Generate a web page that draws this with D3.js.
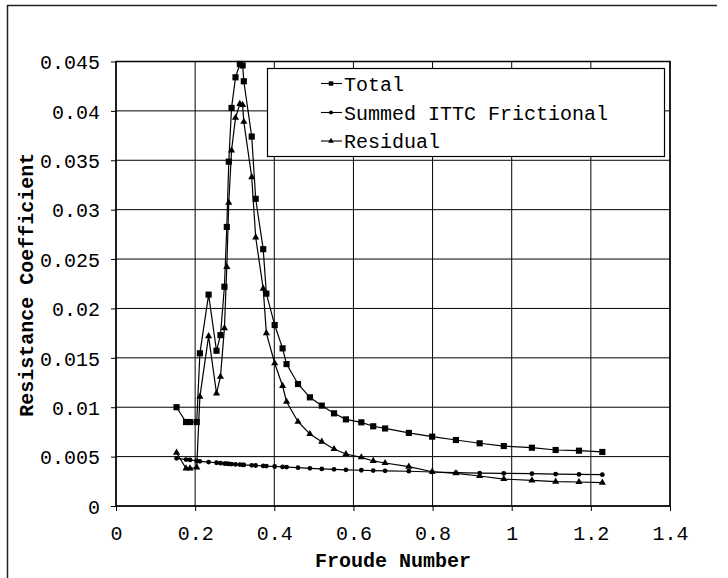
<!DOCTYPE html>
<html>
<head>
<meta charset="utf-8">
<script src="https://cdn.jsdelivr.net/npm/d3@7"></script>
<style>
  html, body { margin: 0; padding: 0; background: #fff; }
  svg { display: block; }
  text { font-family: "Liberation Mono", "Courier New", monospace; fill: #000; }
</style>
</head>
<body>
<svg id="chart" width="728" height="578"></svg>
<script>
const froude = [0.153, 0.177, 0.187, 0.204, 0.212, 0.234, 0.254, 0.264, 0.274, 0.280,
  0.285, 0.292, 0.302, 0.313, 0.320, 0.323, 0.343, 0.353, 0.372, 0.380,
  0.401, 0.421, 0.431, 0.460, 0.490, 0.520, 0.551, 0.581, 0.620, 0.650,
  0.680, 0.740, 0.799, 0.859, 0.919, 0.980, 1.051, 1.111, 1.170, 1.229];
const total = [0.0100, 0.0085, 0.0085, 0.0085, 0.01546, 0.0214, 0.01572, 0.0173, 0.0222, 0.02825,
  0.03486, 0.0403, 0.0434, 0.04475, 0.0446, 0.0430, 0.0374, 0.0311, 0.0260, 0.0215,
  0.01832, 0.01596, 0.01437, 0.01235, 0.0110, 0.01016, 0.00938, 0.00877, 0.00847, 0.00807,
  0.00785, 0.0074, 0.00702, 0.00668, 0.00635, 0.00607, 0.0059, 0.00567, 0.0056, 0.00547];
const frictional = [0.00483, 0.0047, 0.00466, 0.00456, 0.00452, 0.00445, 0.00438, 0.00433, 0.0043, 0.00428,
  0.00426, 0.00424, 0.00421, 0.00419, 0.00417, 0.00416, 0.00412, 0.0041, 0.00406, 0.00404,
  0.0040, 0.00396, 0.00394, 0.00388, 0.00381, 0.00375, 0.00371, 0.00366, 0.00362, 0.00359,
  0.00356, 0.00352, 0.00344, 0.00337, 0.00333, 0.0033, 0.00327, 0.00323, 0.0032, 0.00317];
const residual = [0.0054, 0.0038, 0.0038, 0.0039, 0.01107, 0.0172, 0.0114, 0.0131, 0.0180, 0.0242,
  0.0307, 0.0360, 0.0393, 0.0407, 0.0406, 0.0389, 0.0333, 0.0272, 0.0220, 0.0175,
  0.01445, 0.01215, 0.01056, 0.00853, 0.00729, 0.00651, 0.00577, 0.00526, 0.00493, 0.00456,
  0.00435, 0.00398, 0.00347, 0.00331, 0.00304, 0.00273, 0.0026, 0.00246, 0.00243, 0.00236];
const seriesNames = ["Total", "Summed ITTC Frictional", "Residual"];
const xTicks = [0, 0.2, 0.4, 0.6, 0.8, 1, 1.2, 1.4];
const yTicks = [0, 0.005, 0.01, 0.015, 0.02, 0.025, 0.03, 0.035, 0.04, 0.045];
const xTitle = "Froude Number";
const yTitle = "Resistance Coefficient";

const svg = d3.select("#chart");
const L = 116, R = 670, T = 61.5, B = 506;
const x = d3.scaleLinear().domain([0, 1.4]).range([L, R]);
const y = d3.scaleLinear().domain([0, 0.045]).range([B, T]);

// outer frame (top and left edges)
svg.append("line").attr("x1", 7).attr("x2", 717).attr("y1", 5.5).attr("y2", 5.5)
  .attr("stroke", "#222").attr("stroke-width", 1.5);
svg.append("line").attr("x1", 7.5).attr("x2", 7.5).attr("y1", 5).attr("y2", 578)
  .attr("stroke", "#222").attr("stroke-width", 1.5);

// grid
const g = svg.append("g");
g.selectAll(".vg").data(xTicks).enter().append("line")
  .attr("x1", d => x(d)).attr("x2", d => x(d)).attr("y1", T).attr("y2", B)
  .attr("stroke", "#000").attr("stroke-width", 1);
g.selectAll(".hg").data(yTicks).enter().append("line")
  .attr("x1", L).attr("x2", R).attr("y1", d => y(d)).attr("y2", d => y(d))
  .attr("stroke", "#000").attr("stroke-width", 1);

// axes
const xAxis = d3.axisBottom(x).tickValues(xTicks).tickSize(5).tickPadding(15)
  .tickFormat(d => String(d));
const yAxis = d3.axisLeft(y).tickValues(yTicks).tickSize(5).tickPadding(11)
  .tickFormat(d => String(+d.toFixed(3)));
const gx = svg.append("g").attr("transform", `translate(0,${B})`).call(xAxis);
const gy = svg.append("g").attr("transform", `translate(${L},0)`).call(yAxis);
[gx, gy].forEach(a => {
  a.select(".domain").remove();
  a.selectAll(".tick line").attr("stroke", "#000");
  a.selectAll(".tick text").style("font-size", "20px").attr("fill", "#000");
});
gy.selectAll(".tick text").attr("dy", "0.36em");

// plot border
svg.append("rect").attr("x", L).attr("y", T).attr("width", R - L).attr("height", B - T)
  .attr("fill", "none").attr("stroke", "#000").attr("stroke-width", 1.5);

// series
const symSquare = d3.symbol().type(d3.symbolSquare).size(38)();
const symDiamond = d3.symbol().type(d3.symbolCircle).size(18)();
const symTri = d3.symbol().type(d3.symbolTriangle).size(22)();
const series = [
  { name: seriesNames[0], values: total, sym: symSquare },
  { name: seriesNames[1], values: frictional, sym: symDiamond },
  { name: seriesNames[2], values: residual, sym: symTri }
];
const line = d3.line().x(d => x(d[0])).y(d => y(d[1]));
series.forEach(s => {
  const pts = froude.map((f, i) => [f, s.values[i]]);
  svg.append("path").datum(pts).attr("d", line)
    .attr("fill", "none").attr("stroke", "#000").attr("stroke-width", 1.2);
  svg.append("g").selectAll("path").data(pts).enter().append("path")
    .attr("d", s.sym)
    .attr("transform", d => `translate(${x(d[0])},${y(d[1])})`)
    .attr("fill", "#000");
});

// legend
const lg = svg.append("g");
lg.append("rect").attr("x", 267.5).attr("y", 68.5).attr("width", 397).attr("height", 88)
  .attr("fill", "#fff").attr("stroke", "#000").attr("stroke-width", 1.2);
const legY = [83.5, 112.5, 141];
series.forEach((s, i) => {
  lg.append("line").attr("x1", 321).attr("x2", 342).attr("y1", legY[i]).attr("y2", legY[i])
    .attr("stroke", "#000").attr("stroke-width", 1.1);
  lg.append("path").attr("d", i === 0 ? d3.symbol().type(d3.symbolSquare).size(20)()
      : i === 1 ? d3.symbol().type(d3.symbolCircle).size(12)()
      : d3.symbol().type(d3.symbolTriangle).size(14)())
    .attr("transform", `translate(331,${legY[i]})`).attr("fill", "#000");
  lg.append("text").attr("x", 344).attr("y", legY[i]).attr("dy", "0.36em")
    .style("font-size", "20px").text(s.name);
});

// titles
svg.append("text").attr("x", (L + R) / 2).attr("y", 567).attr("text-anchor", "middle")
  .style("font-size", "20px").style("font-weight", "bold").text(xTitle);
svg.append("text").attr("transform", `translate(33,${(T + B) / 2 + 1}) rotate(-90)`)
  .attr("text-anchor", "middle").style("font-size", "20px").style("font-weight", "bold")
  .text(yTitle);
</script>
</body>
</html>
